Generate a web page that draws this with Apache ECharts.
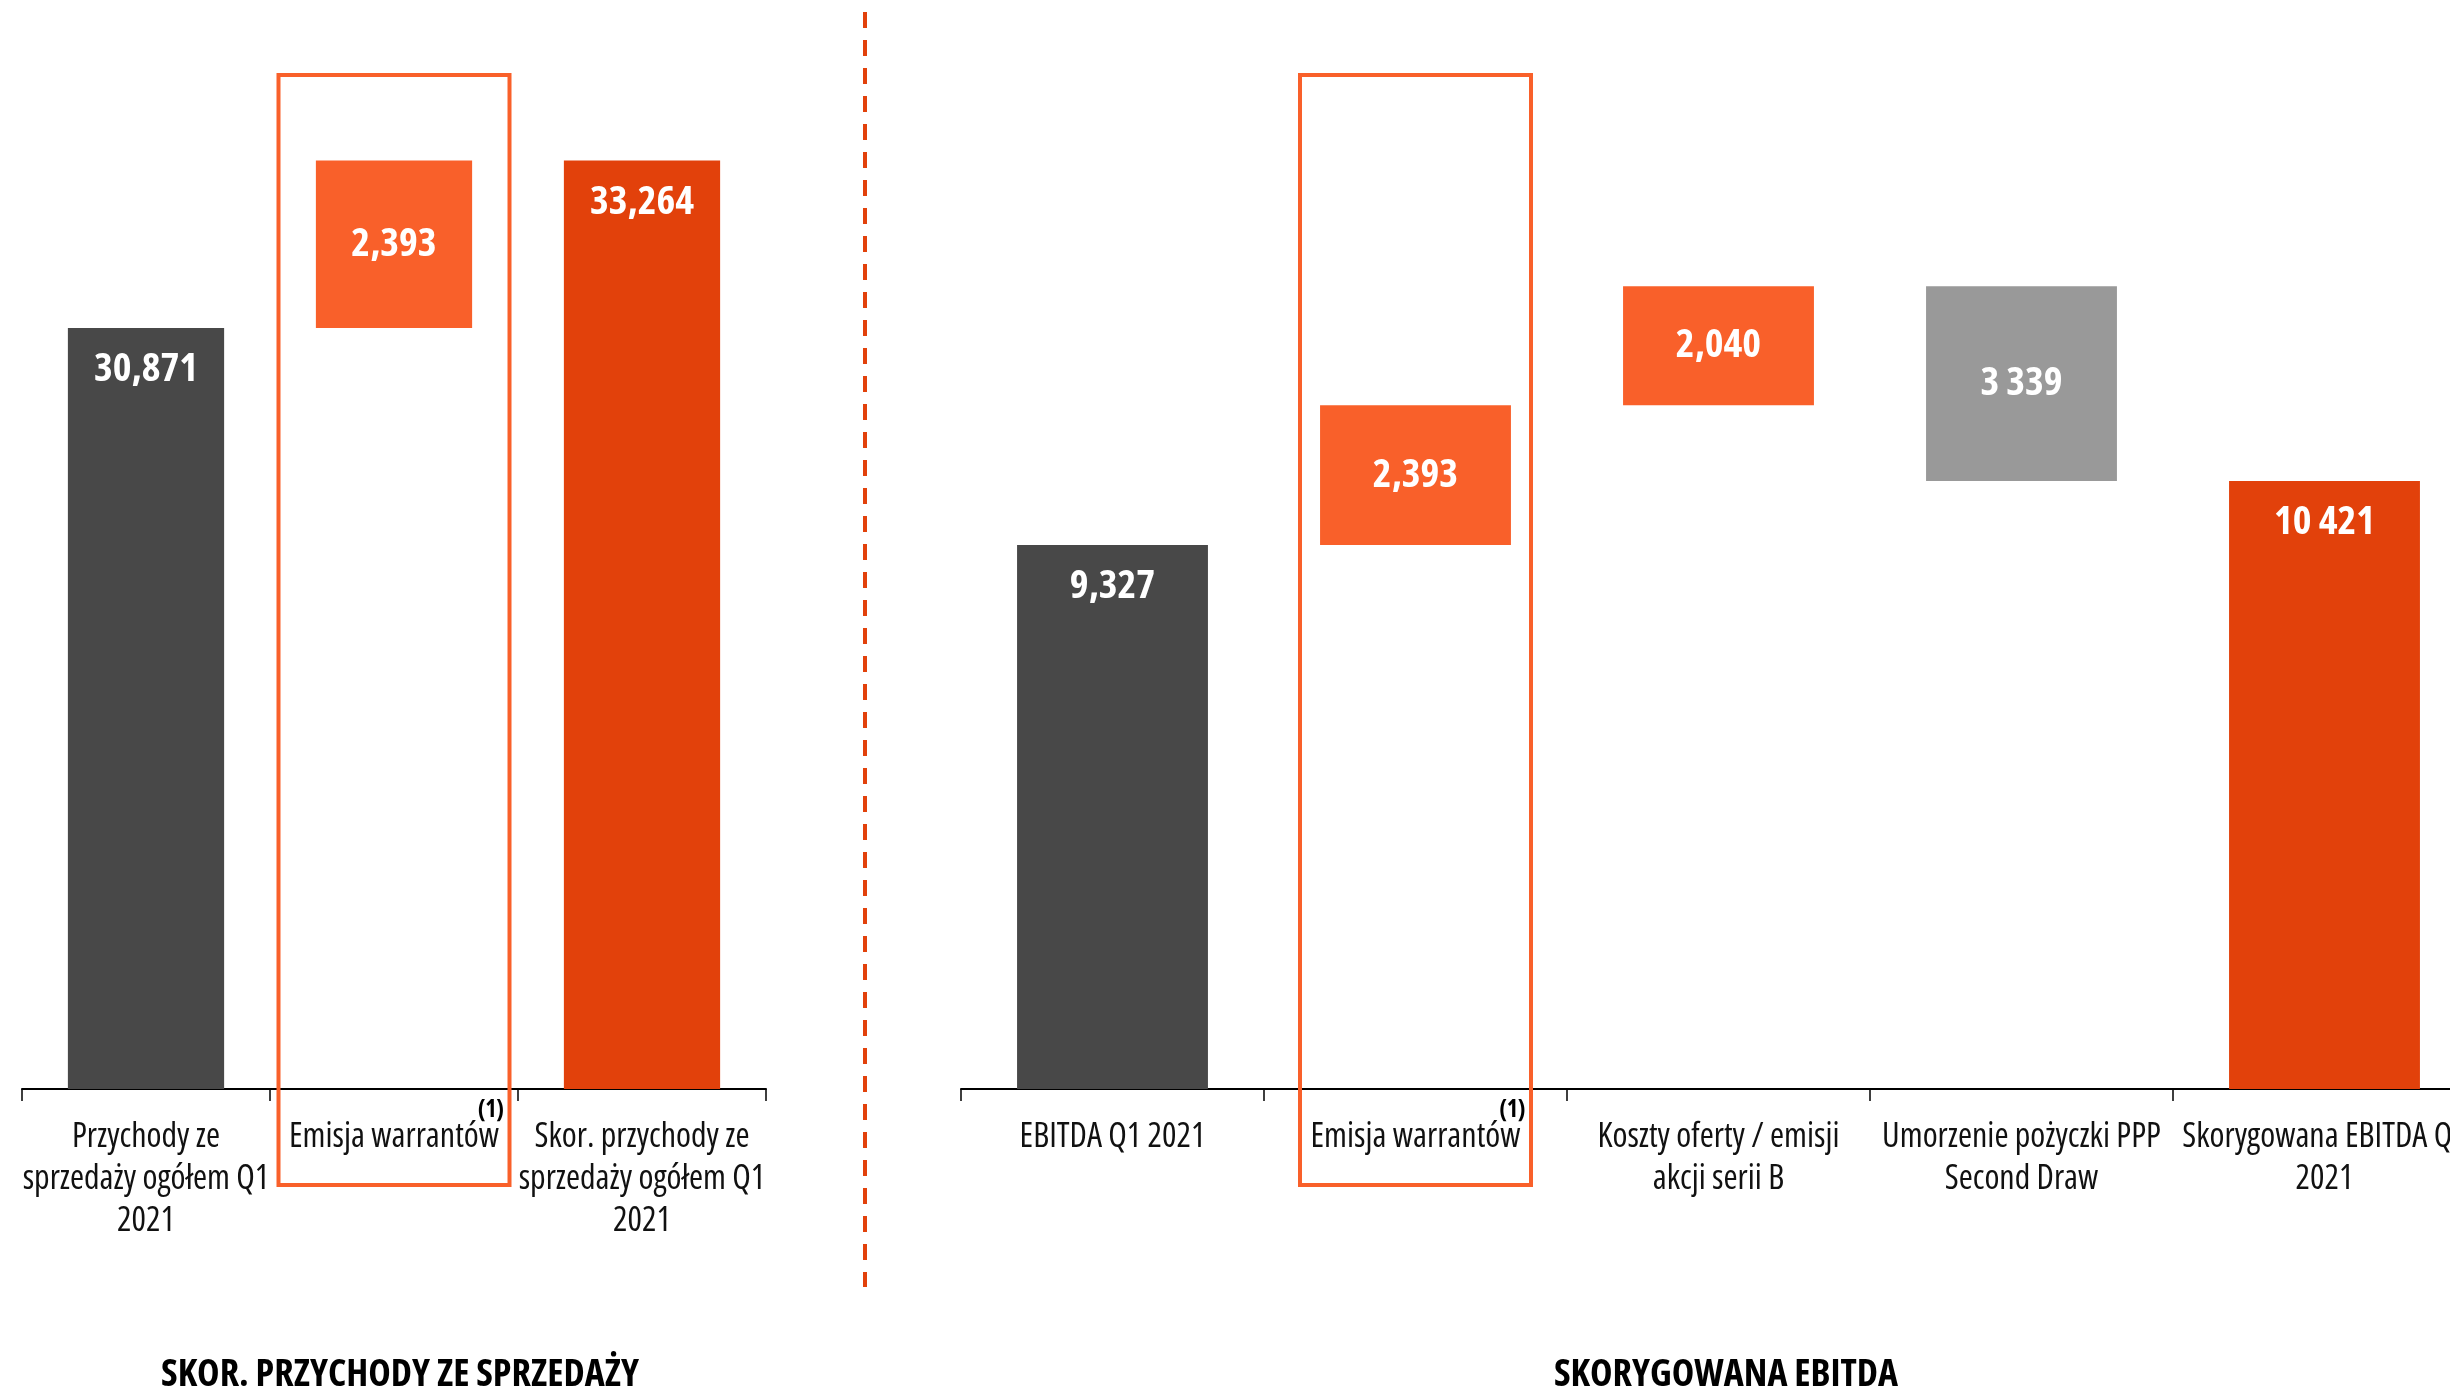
<!DOCTYPE html>
<html>
<head>
<meta charset="utf-8">
<script src="https://cdn.jsdelivr.net/npm/echarts@6/dist/echarts.min.js"></script>
<style>
html,body{margin:0;padding:0;background:#fff;overflow:hidden;}
#c{width:2500px;height:1395px;}
</style>
</head>
<body>
<div id="c"></div>
<script>
// ---------- data ----------
const leftCategories = ['Przychody ze\nsprzedaży ogółem Q1\n2021', 'Emisja warrantów', 'Skor. przychody ze\nsprzedaży ogółem Q1\n2021'];
const leftBase = [0, 30871, 0];
const leftValues = [30871, 2393, 33264];
const leftLabels = ['30,871', '2,393', '33,264'];

const rightCategories = ['EBITDA Q1 2021', 'Emisja warrantów', 'Koszty oferty / emisji\nakcji serii B', 'Umorzenie pożyczki PPP\nSecond Draw', 'Skorygowana EBITDA Q1\n2021'];
const rightBase = [0, 9327, 11720, 10421, 0];
const rightValues = [9327, 2393, 2040, 3339, 10421];
const rightLabels = ['9,327', '2,393', '2,040', '3 339', '10 421'];

const leftTitle = 'SKOR. PRZYCHODY ZE SPRZEDAŻY';
const rightTitle = 'SKORYGOWANA EBITDA';
const highlightCategory = 'Emisja warrantów';
const footnote = '(1)';

// ---------- styles ----------
const DARK = '#484848', ORANGE = '#f9602a', RED = '#e2410b', GRAY = '#999999';
const FONT = "'Open Sans', 'Roboto Condensed', sans-serif";
const STRETCH = 'condensed';
const leftColors = [DARK, ORANGE, RED];
const rightColors = [DARK, ORANGE, ORANGE, GRAY, RED];
const leftPos = ['insideTop', 'inside', 'insideTop'];
const rightPos = ['insideTop', 'inside', 'inside', 'inside', 'insideTop'];

function valueData(vals, colors, labels, pos) {
  return vals.map((v, i) => ({
    value: v,
    itemStyle: { color: colors[i] },
    label: { show: true, position: pos[i], distance: pos[i] === 'insideTop' ? 22 : 5, formatter: labels[i] }
  }));
}

const axisCommon = {
  type: 'category',
  axisLine: { lineStyle: { color: '#000', width: 2 } },
  axisTick: { show: true, length: 12, lineStyle: { color: '#000', width: 1.5 } },
  axisLabel: { interval: 0, color: '#111', fontFamily: FONT, fontStyle: STRETCH, fontSize: 34, lineHeight: 42, margin: 27 }
};
const valueLabel = { color: '#fff', fontFamily: FONT, fontStyle: STRETCH, fontWeight: 'bold', fontSize: 40 };
const titleStyle = { fontFamily: FONT, fontStyle: STRETCH, fontWeight: 'bold', fontSize: 38, color: '#000' };

const chart = echarts.init(document.getElementById('c'));
const option = {
  animation: false,
  backgroundColor: '#fff',
  title: [
    { text: leftTitle, left: 395, top: 1351, textAlign: 'center', textStyle: titleStyle },
    { text: rightTitle, left: 1721, top: 1351, textAlign: 'center', textStyle: titleStyle }
  ],
  grid: [
    { left: 22, top: 39, width: 744, height: 1050 },
    { left: 961, top: 39, width: 1515, height: 1050 }
  ],
  xAxis: [
    Object.assign({ gridIndex: 0, data: leftCategories }, axisCommon),
    Object.assign({ gridIndex: 1, data: rightCategories }, axisCommon)
  ],
  yAxis: [
    { gridIndex: 0, type: 'value', min: 20000, max: 35000, show: false, splitLine: { show: false } },
    { gridIndex: 1, type: 'value', min: 0, max: 18000, show: false, splitLine: { show: false } }
  ],
  series: [
    { type: 'bar', xAxisIndex: 0, yAxisIndex: 0, stack: 'L', data: leftBase, barWidth: '63%', clip: true,
      itemStyle: { color: 'transparent' }, silent: true, emphasis: { disabled: true } },
    { type: 'bar', xAxisIndex: 0, yAxisIndex: 0, stack: 'L', barWidth: '63%', clip: true,
      data: valueData(leftValues, leftColors, leftLabels, leftPos), label: valueLabel },
    { type: 'bar', xAxisIndex: 1, yAxisIndex: 1, stack: 'R', data: rightBase, barWidth: '63%', clip: true,
      itemStyle: { color: 'transparent' }, silent: true, emphasis: { disabled: true } },
    { type: 'bar', xAxisIndex: 1, yAxisIndex: 1, stack: 'R', barWidth: '63%', clip: true,
      data: valueData(rightValues, rightColors, rightLabels, rightPos), label: valueLabel }
  ]
};
chart.setOption(option);

// highlight boxes and footnote marks, positioned from the category axes
const RECT_W = 231, RECT_TOP = 75, RECT_BOTTOM = 1185;
const graphics = [];
[0, 1].forEach(ai => {
  const cx = chart.convertToPixel({ xAxisIndex: ai }, highlightCategory);
  graphics.push({
    type: 'rect', z: 100,
    shape: { x: cx - RECT_W / 2, y: RECT_TOP, width: RECT_W, height: RECT_BOTTOM - RECT_TOP },
    style: { fill: 'none', stroke: ORANGE, lineWidth: 4 }
  });
  graphics.push({
    type: 'text', z: 101, x: cx + 110, y: 1098,
    style: { text: footnote, fill: '#000', font: STRETCH + ' bold 24px ' + FONT, textAlign: 'right', textVerticalAlign: 'top' }
  });
});
graphics.push({
  type: 'line', z: 100,
  shape: { x1: 865, y1: 12, x2: 865, y2: 1287 },
  style: { stroke: RED, lineWidth: 4, lineDash: [16, 12] }
});
chart.setOption({ graphic: graphics });
</script>
</body>
</html>
